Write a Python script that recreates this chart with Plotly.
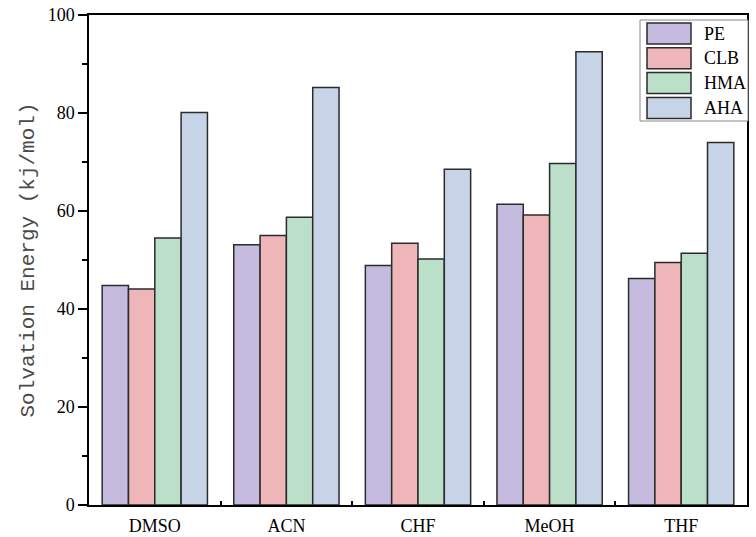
import plotly.graph_objects as go

categories = ["DMSO", "ACN", "CHF", "MeOH", "THF"]
series_names = ["PE", "CLB", "HMA", "AHA"]
pe = [44.8, 53.1, 48.9, 61.4, 46.2]
clb = [44.1, 55.0, 53.4, 59.2, 49.5]
hma = [54.5, 58.7, 50.2, 69.7, 51.4]
aha = [80.1, 85.2, 68.5, 92.5, 74.0]
series_values = [pe, clb, hma, aha]
colors = ["#c5bbdf", "#efb6ba", "#bbdfc8", "#c7d4e7"]
y_ticks = [0, 20, 40, 60, 80, 100]

W, H = 756, 537
L, R, T, B = 89, 9, 15, 32
pw, ph = W - L - R, H - T - B

fig = go.Figure()
for name, vals, col in zip(series_names, series_values, colors):
    fig.add_trace(go.Bar(
        x=categories, y=vals, name=name,
        marker=dict(color=col, line=dict(color="#2b2b2b", width=1.5)),
        showlegend=False,
    ))

def px2x(px):
    return (px - L) / pw

def py2y(py):
    return (H - B - py) / ph

# custom legend (box + swatches + labels)
shapes = [dict(type="rect", xref="paper", yref="paper",
               x0=px2x(640), x1=px2x(748), y0=py2y(121), y1=py2y(20),
               line=dict(color="#888888", width=1), fillcolor="white", layer="above")]
annotations = []
for i, (name, col) in enumerate(zip(series_names, colors)):
    top = 23 + i * 24.8
    shapes.append(dict(type="rect", xref="paper", yref="paper",
                       x0=px2x(647), x1=px2x(691), y0=py2y(top + 21), y1=py2y(top),
                       line=dict(color="#2b2b2b", width=1.5), fillcolor=col, layer="above"))
    annotations.append(dict(xref="paper", yref="paper", x=px2x(702), y=py2y(top + 10.5),
                            text=name, showarrow=False, xanchor="left", yanchor="middle",
                            font=dict(family="Liberation Serif", size=18, color="black")))

fig.update_layout(
    width=W, height=H,
    margin=dict(l=L, r=R, t=T, b=B, autoexpand=False),
    paper_bgcolor="white", plot_bgcolor="white",
    barmode="group", bargap=0.2, bargroupgap=0,
    shapes=shapes, annotations=annotations,
    font=dict(family="Liberation Serif", size=18, color="black"),
)
fig.update_xaxes(
    type="category", showline=True, linecolor="black", linewidth=1.5, mirror=True,
    ticks="inside", ticklen=4, tickwidth=1.5, tickcolor="black", tickson="boundaries",
    showgrid=False, tickfont=dict(family="Liberation Serif", size=18, color="black"),
    ticklabelstandoff=4, automargin=False,
)
fig.update_yaxes(
    range=[0, 100], tickvals=y_ticks, showline=True, linecolor="black", linewidth=1.5,
    mirror=True, ticks="outside", ticklen=9, tickwidth=1.5, tickcolor="black",
    minor=dict(dtick=10, ticks="outside", ticklen=5, tickwidth=1.5, tickcolor="black"),
    showgrid=False, zeroline=False, automargin=False,
    tickfont=dict(family="Liberation Serif", size=18, color="black"),
    title=dict(text="Solvation Energy (kj/mol)", standoff=7,
               font=dict(family="Liberation Mono", size=21, color="#4a4a4a")),
)

fig.write_html("out.html", config={"displayModeBar": False},
               post_script="document.body.style.margin='0px';document.body.style.padding='0px';")
